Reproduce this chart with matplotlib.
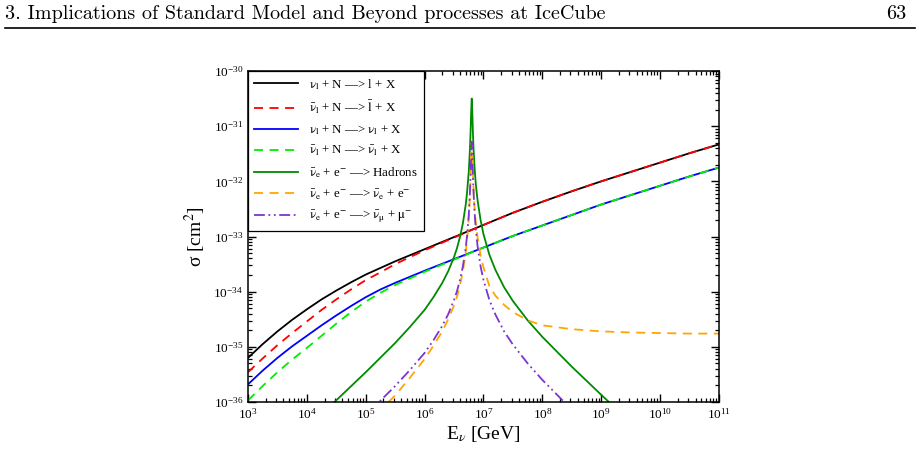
import matplotlib
matplotlib.use("Agg")
import matplotlib.pyplot as plt
from matplotlib.lines import Line2D
from matplotlib.ticker import FixedLocator, NullFormatter, LogFormatterSciNotation
import numpy as np

plt.rcParams['font.family'] = ['Liberation Serif', 'DejaVu Serif']
plt.rcParams['mathtext.fontset'] = 'stix'
plt.rcParams.update({
    'xtick.direction': 'in', 'ytick.direction': 'in',
    'xtick.top': True, 'ytick.right': True,
    'xtick.bottom': True, 'ytick.left': True,
    'xtick.major.size': 5.5, 'ytick.major.size': 5.5,
    'xtick.minor.size': 3.0, 'ytick.minor.size': 3.0,
    'xtick.major.width': 1.0, 'ytick.major.width': 1.0,
    'xtick.minor.width': 0.9, 'ytick.minor.width': 0.9,
    'xtick.color': 'black', 'ytick.color': 'black',
})

## neutrino-nucleon DIS: log10(E/GeV) and log10(sigma/cm^2)
logE_dis = [3.0, 3.25, 3.5, 3.75, 4.0, 4.25, 4.5, 4.75, 5.0, 5.25, 5.5, 5.75, 6.0,
            6.5, 7.0, 7.5, 8.0, 8.5, 9.0, 9.5, 10.0, 10.5, 11.0]
cc_nu    = [-35.20, -34.95, -34.72, -34.51, -34.32, -34.14, -33.98, -33.83, -33.69, -33.57, -33.45, -33.34, -33.23,
            -33.01, -32.79, -32.57, -32.37, -32.18, -32.00, -31.83, -31.66, -31.49, -31.33]
cc_nubar = [-35.46, -35.21, -34.97, -34.75, -34.54, -34.33, -34.14, -33.96, -33.79, -33.65, -33.50, -33.375, -33.25,
            -33.02, -32.79, -32.57, -32.37, -32.18, -32.00, -31.83, -31.66, -31.49, -31.33]
nc_nu    = [-35.68, -35.43, -35.20, -34.99, -34.80, -34.61, -34.43, -34.26, -34.10, -33.96, -33.84, -33.73, -33.62,
            -33.41, -33.20, -32.99, -32.80, -32.61, -32.42, -32.25, -32.08, -31.91, -31.75]
nc_nubar = [-35.97, -35.71, -35.46, -35.23, -35.02, -34.80, -34.58, -34.37, -34.18, -34.02, -33.88, -33.76, -33.64,
            -33.42, -33.20, -32.99, -32.80, -32.61, -32.42, -32.25, -32.08, -31.91, -31.75]

## Glashow resonance: nubar_e + e-
logE_had = [4.4, 5.0, 5.5, 5.75, 6.0, 6.15, 6.3, 6.4, 6.5, 6.55, 6.6, 6.65, 6.7, 6.72, 6.75, 6.77, 6.78, 6.79, 6.8,
            6.81, 6.82, 6.83, 6.85, 6.87, 6.9, 6.95, 7.0, 7.1, 7.2, 7.35, 7.5, 7.75, 8.0, 8.5, 9.0, 9.3]
had      = [-36.07, -35.46, -34.93, -34.64, -34.33, -34.10, -33.84, -33.63, -33.37, -33.21, -33.01, -32.76, -32.41, -32.21, -31.82, -31.41, -31.12, -30.76, -30.50,
            -30.75, -31.11, -31.40, -31.78, -32.06, -32.35, -32.70, -32.96, -33.33, -33.60, -33.92, -34.17, -34.52, -34.82, -35.36, -35.87, -36.17]

logE_mu = [5.0, 5.5, 5.75, 6.0, 6.15, 6.3, 6.4, 6.5, 6.55, 6.6, 6.65, 6.7, 6.72, 6.75, 6.77, 6.78, 6.79, 6.8,
           6.81, 6.82, 6.83, 6.85, 6.87, 6.9, 6.95, 7.0, 7.1, 7.2, 7.35, 7.5, 7.75, 8.0, 8.5]
mumu    = [-36.24, -35.71, -35.42, -35.11, -34.88, -34.62, -34.41, -34.15, -33.99, -33.79, -33.54, -33.19, -32.99, -32.60, -32.19, -31.90, -31.54, -31.28,
           -31.53, -31.89, -32.18, -32.59, -32.88, -33.18, -33.54, -33.79, -34.15, -34.41, -34.72, -34.96, -35.30, -35.60, -36.14]

logE_ee = [5.2, 5.5, 5.75, 6.0, 6.15, 6.3, 6.4, 6.5, 6.55, 6.6, 6.65, 6.7, 6.72, 6.75, 6.77, 6.78, 6.79, 6.8,
           6.81, 6.82, 6.83, 6.85, 6.87, 6.9, 6.95, 7.0, 7.1, 7.2, 7.35, 7.5, 7.75, 8.0, 8.5, 9.0, 9.5, 10.0, 10.5, 11.0]
ee      = [-36.20, -35.88, -35.56, -35.22, -34.98, -34.72, -34.50, -34.25, -34.09, -33.89, -33.63, -33.27, -33.07, -32.68, -32.25, -31.95, -31.58, -31.29,
           -31.51, -31.85, -32.12, -32.50, -32.76, -33.02, -33.34, -33.56, -33.90, -34.07, -34.24, -34.37, -34.52, -34.61, -34.68, -34.72, -34.74, -34.75, -34.76, -34.76]

labels = [r'$\mathrm{\nu_{l}}$ + N —> l + X',
          r'$\mathrm{\bar{\nu}_{l}}$ + N —> $\mathrm{\bar{l}}$ + X',
          r'$\mathrm{\nu_{l}}$ + N —> $\mathrm{\nu_{l}}$ + X',
          r'$\mathrm{\bar{\nu}_{l}}$ + N —> $\mathrm{\bar{\nu}_{l}}$ + X',
          r'$\mathrm{\bar{\nu}_{e}}$ + e$^{-}$ —> Hadrons',
          r'$\mathrm{\bar{\nu}_{e}}$ + e$^{-}$ —> $\mathrm{\bar{\nu}_{e}}$ + e$^{-}$',
          r'$\mathrm{\bar{\nu}_{e}}$ + e$^{-}$ —> $\mathrm{\bar{\nu}_{\mu}}$ + $\mathrm{\mu^{-}}$']

x_decades = np.arange(3, 12)
y_decades = np.arange(-36, -29)

def p(v):
    return 10.0**np.array(v)

def minors(decs):
    return [m * 10.0**k for k in decs[:-1] for m in range(2, 10)]

fig = plt.figure(figsize=(9.2, 4.54), dpi=100)
ax = fig.add_axes([248/920, 52/454, 471/920, 331/454])

lw = 1.3
ax.plot(p(logE_dis), p(cc_nu), color='black', lw=lw, label=labels[0])
ax.plot(p(logE_dis), p(cc_nubar), color='#ff0000', lw=lw, dashes=(5, 3.6), label=labels[1])
ax.plot(p(logE_dis), p(nc_nu), color='#0000ff', lw=lw, label=labels[2])
ax.plot(p(logE_dis), p(nc_nubar), color='#00ee00', lw=lw, dashes=(5, 3.6), label=labels[3])
ax.plot(p(logE_had), p(had), color='#008a00', lw=lw, label=labels[4])
ax.plot(p(logE_ee), p(ee), color='#ffa500', lw=lw, dashes=(5, 3.6), label=labels[5])
ax.plot(p(logE_mu), p(mumu), color='#7b35d0', lw=lw, dashes=(6, 2, 1, 2, 1, 2), label=labels[6])

ax.set_xscale('log')
ax.set_yscale('log')
ax.set_xlim(1e3, 1e11)
ax.set_ylim(1e-36, 1e-30)
ax.xaxis.set_major_locator(FixedLocator(p(x_decades)))
ax.yaxis.set_major_locator(FixedLocator(p(y_decades)))
ax.xaxis.set_major_formatter(LogFormatterSciNotation())
ax.yaxis.set_major_formatter(LogFormatterSciNotation())
ax.xaxis.set_minor_locator(FixedLocator(minors(x_decades)))
ax.yaxis.set_minor_locator(FixedLocator(minors(y_decades)))
ax.xaxis.set_minor_formatter(NullFormatter())
ax.yaxis.set_minor_formatter(NullFormatter())
ax.tick_params(which='both', direction='in', top=True, right=True, bottom=True, left=True,
               color='black', labelsize=9.5)
ax.tick_params(which='major', length=5.5, width=1.0)
ax.tick_params(which='minor', length=3.0, width=0.9)
for s in ax.spines.values():
    s.set_linewidth(1.1)

ax.set_xlabel(r'E$_{\nu}$ [GeV]', fontsize=14, labelpad=2)
ax.set_ylabel(r'σ [cm$^{2}$]', fontsize=14, labelpad=4)

leg = ax.legend(loc='upper left', borderaxespad=0, fancybox=False, framealpha=1,
                edgecolor='black', fontsize=9.3, handlelength=3.4, handletextpad=0.9,
                labelspacing=0.56, borderpad=0.45)
leg.get_frame().set_linewidth(0.9)

# page header
fig.text(5/920, 1 - 14/454, '3. Implications of Standard Model and Beyond processes at IceCube',
         family='cmr10', fontsize=14.5, va='center', ha='left')
fig.text(906/920, 1 - 14/454, '63', family='cmr10', fontsize=14.5, va='center', ha='right')
fig.add_artist(Line2D([5/920, 915/920], [1 - 28/454, 1 - 28/454], color='black', lw=1.2))

fig.savefig('out.png', dpi=100)
